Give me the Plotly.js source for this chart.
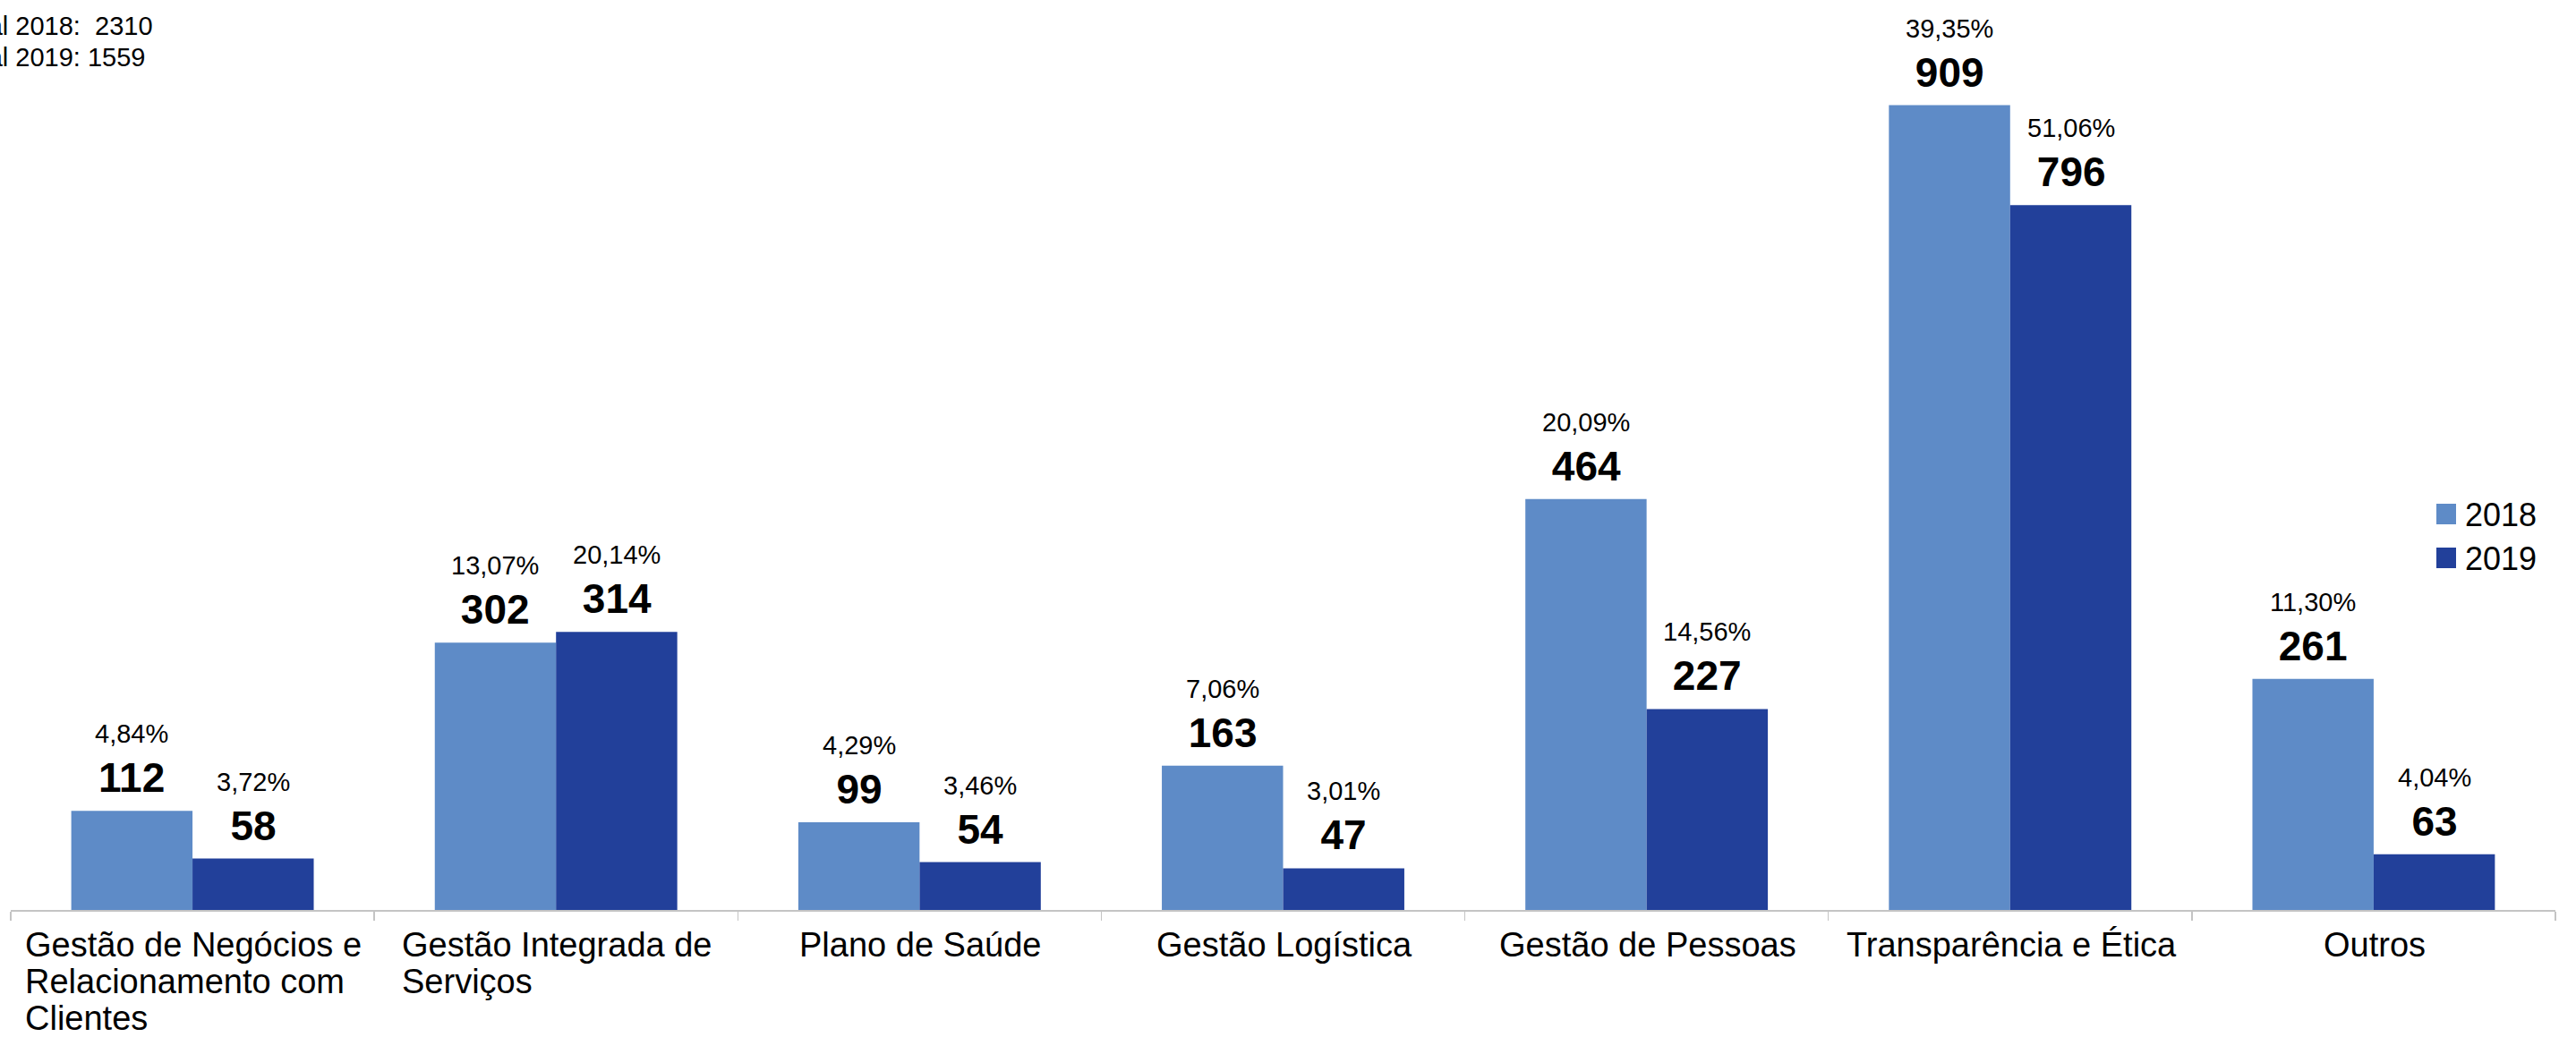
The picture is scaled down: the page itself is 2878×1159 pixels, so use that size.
<!DOCTYPE html>
<html>
<head>
<meta charset="utf-8">
<script src="https://cdn.plot.ly/plotly-3.0.1.min.js"></script>
<style>
  html, body { margin: 0; padding: 0; background: #ffffff; }
  #chart { width: 2878px; height: 1159px; }
</style>
</head>
<body>
<div id="chart"></div>
<script>
// ---- data ----
const categoryLines = [
  ['Gestão de Negócios e', 'Relacionamento com', 'Clientes'],
  ['Gestão Integrada de', 'Serviços'],
  ['Plano de Saúde'],
  ['Gestão Logística'],
  ['Gestão de Pessoas'],
  ['Transparência e Ética'],
  ['Outros']
];
const categories = categoryLines.map(l => l.join(' '));
const seriesNames = ['2018', '2019'];
const values2018 = [112, 302, 99, 163, 464, 909, 261];
const values2019 = [58, 314, 54, 47, 227, 796, 63];
const pct2018 = ['4,84%', '13,07%', '4,29%', '7,06%', '20,09%', '39,35%', '11,30%'];
const pct2019 = ['3,72%', '20,14%', '3,46%', '3,01%', '14,56%', '51,06%', '4,04%'];
const totalLines = ['Total 2018:\u00a0 2310', 'Total 2019: 1559'];

// ---- style ----
const FONT = 'Liberation Sans, Arial, sans-serif';
const colors = ['#5e8bc7', '#22409a'];
const catFontSize = 38;
const catLineStep = 41.3;
const BARGAP = 0.333;

const traces = [
  { type: 'bar', name: seriesNames[0], x: categories, y: values2018,
    marker: { color: colors[0] }, hoverinfo: 'x+y+name' },
  { type: 'bar', name: seriesNames[1], x: categories, y: values2019,
    marker: { color: colors[1] }, hoverinfo: 'x+y+name' }
];

const annotations = [];

// value labels (percentage + count) above each bar, placed on the data scale
const barW = (1 - BARGAP) / 2;
[[values2018, pct2018, -barW / 2], [values2019, pct2019, barW / 2]].forEach(([vals, pcts, off]) => {
  vals.forEach((v, i) => {
    annotations.push({
      xref: 'x', yref: 'y', x: i + off, y: v,
      xanchor: 'center', yanchor: 'bottom', yshift: 9,
      showarrow: false, align: 'center',
      text: '<span style="font-size:29px">' + pcts[i] + '</span><br>' +
            '<span style="font-size:46px"><b>' + v + '</b></span>',
      font: { family: FONT, size: 42, color: '#000000' }
    });
  });
});

// measure text widths for left-aligned wrapped category labels
const ctx = document.createElement('canvas').getContext('2d');
ctx.font = catFontSize + 'px "Liberation Sans"';

categoryLines.forEach((lines, i) => {
  const maxW = Math.max(...lines.map(l => ctx.measureText(l).width));
  lines.forEach((line, k) => {
    annotations.push({
      xref: 'x', yref: 'paper', x: i, y: 0,
      xanchor: 'left', yanchor: 'top',
      xshift: -maxW / 2 - 1, yshift: -15.5 - k * catLineStep,
      text: line, showarrow: false, align: 'left',
      font: { family: FONT, size: catFontSize, color: '#000000' }
    });
  });
});

// totals at top-left (partially cut off at the left edge, as in the reference)
totalLines.forEach((t, k) => {
  annotations.push({
    xref: 'paper', yref: 'paper', x: 0, y: 1,
    xanchor: 'left', yanchor: 'top',
    xshift: -66, yshift: 6 - k * 35,
    text: t, showarrow: false, align: 'left',
    font: { family: FONT, size: 29, color: '#000000' }
  });
});

// custom legend (larger swatches than Plotly's fixed legend symbol)
const shapes = [];
seriesNames.forEach((name, k) => {
  shapes.push({
    type: 'rect', xref: 'paper', yref: 'paper',
    xsizemode: 'pixel', ysizemode: 'pixel',
    xanchor: 1, yanchor: 1,
    x0: -133, x1: -111,
    y0: -569 - k * 49, y1: -546 - k * 49,
    fillcolor: colors[k], line: { width: 0 }
  });
  annotations.push({
    xref: 'paper', yref: 'paper', x: 1, y: 1,
    xanchor: 'left', yanchor: 'top',
    xshift: -103, yshift: -536 - k * 49,
    text: name, showarrow: false,
    font: { family: FONT, size: 36, color: '#000000' }
  });
});

const layout = {
  width: 2878,
  height: 1159,
  margin: { l: 12, r: 23, t: 17, b: 142, pad: 0 },
  paper_bgcolor: '#ffffff',
  plot_bgcolor: '#ffffff',
  barmode: 'group',
  bargap: BARGAP,
  bargroupgap: 0,
  showlegend: false,
  font: { family: FONT, color: '#000000' },
  xaxis: {
    type: 'category',
    range: [-0.5, categories.length - 0.5],
    showline: true,
    linecolor: '#c4c4c4',
    linewidth: 1.5,
    ticks: 'outside',
    tickson: 'boundaries',
    ticklen: 10,
    tickwidth: 1.5,
    tickcolor: '#c4c4c4',
    showticklabels: false,
    showgrid: false,
    zeroline: false,
    fixedrange: true
  },
  yaxis: {
    range: [0, 1010.6],
    visible: false,
    showgrid: false,
    zeroline: false,
    fixedrange: true
  },
  annotations: annotations,
  shapes: shapes
};

Plotly.newPlot('chart', traces, layout, { displayModeBar: false, staticPlot: true });
</script>
</body>
</html>
